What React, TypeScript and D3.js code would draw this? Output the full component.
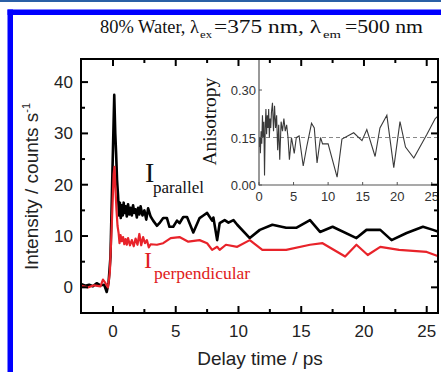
import React, { useEffect, useRef } from 'react';
import * as d3 from 'd3';

// main panel: delay time (ps) vs intensity (counts/s)
const parallelTime = [
  -2.5, -2.2, -1.9, -1.6, -1.3, -1.0, -0.7, -0.5, -0.35, -0.2, -0.05, 0.1, 0.18, 0.25, 0.32, 0.4,
  0.48, 0.55, 0.62, 0.7, 0.78, 0.85, 0.92, 1.0, 1.1, 1.2, 1.3, 1.4, 1.5, 1.6, 1.7, 1.8, 1.9, 2.0,
  2.1, 2.2, 2.35, 2.5, 2.65, 2.8, 3.0, 3.2, 3.5, 3.7, 4.0, 4.3, 4.5, 4.8, 5.1, 5.3, 5.6, 5.9, 6.4,
  6.9, 7.2, 7.5, 7.9, 8.0, 8.3, 8.5, 8.9, 9.2, 9.6, 9.9, 10.9, 11.7, 12.7, 13.8, 14.6, 15.7, 16.5,
  17.5, 19.4, 20.2, 21.3, 22.2, 23.4, 24.7, 25.5, 26.0,
];
const parallelValues = [
  0.6, 0.3, 0.5, 0.2, 0.8, 0.4, 0.5, -0.9, 1.0, 6, 22, 37.5, 30, 26, 21, 18,
  14, 16.5, 13.5, 16, 14, 16.5, 14.5, 15.8, 13.8, 16.2, 14.2, 15.5, 14, 16, 14.5, 15.2, 13.6, 15.5,
  14.2, 15.8, 14, 15, 13.2, 15.4, 13.8, 13, 12, 12.5, 13.5, 13.5, 11.8, 11.8, 13, 12.5, 13.7, 13.7, 10.7,
  13.5, 14, 14.5, 13, 13.6, 9.2, 12.5, 13.1, 12.6, 13.1, 12.2, 9.6, 11.2, 12.2, 11.6, 11.6, 13.1, 10.8,
  11.8, 9.6, 11.2, 11.2, 9.2, 10.6, 11.8, 11.2, 10.8,
];

const perpTime = [
  -2.5, -2.0, -1.5, -1.0, -0.8, -0.6, -0.4, -0.25, -0.1, 0.05, 0.12, 0.2, 0.28, 0.36, 0.45, 0.52,
  0.6, 0.7, 0.8, 0.9, 1.0, 1.1, 1.2, 1.35, 1.5, 1.65, 1.8, 1.95, 2.1, 2.25, 2.4, 2.55, 2.7, 2.85,
  3.0, 3.5, 4.0, 4.6, 5.3, 6.0, 6.9, 7.5, 7.9, 8.3, 8.5, 9.0, 9.9, 10.9, 11.9, 13.8, 15.7, 16.7,
  18.5, 19.4, 20.3, 21.3, 22.8, 25.0, 26.0,
];
const perpValues = [
  0.3, 0.0, 0.4, 0.2, 1.5, 0.8, 0.0, 3, 12, 22, 23.5, 19, 15, 12, 10.5, 8.6,
  10.2, 9, 9.8, 8.4, 9.4, 8.3, 9.6, 8.2, 9.2, 8, 9.5, 8.3, 10.4, 8.2, 9.8, 8.6, 9.2, 7.8,
  8.4, 8.3, 8.6, 9.6, 9.8, 8.9, 9.2, 8.6, 7.3, 7.9, 7.3, 8.3, 7.9, 9.2, 7.3, 7.3, 8.3, 8.6,
  6.0, 8.3, 6.3, 7.9, 7.3, 6.9, 6.0,
];

// inset: anisotropy
const anisoTime = [
  0.0, 0.1, 0.2, 0.3, 0.4, 0.5, 0.6, 0.7, 0.8, 0.9, 1.0, 1.1, 1.2, 1.3, 1.4, 1.5, 1.6, 1.7, 1.8,
  1.95, 2.1, 2.25, 2.4, 2.55, 2.7, 2.85, 3.0, 3.2, 3.4, 3.6, 3.8, 4.0, 4.2, 4.4, 4.7, 5.1, 5.4,
  5.8, 6.4, 6.9, 7.6, 8.0, 8.4, 8.9, 9.2, 10.0, 11.3, 12.0, 13.7, 14.9, 15.6, 16.8, 17.5, 18.5,
  19.5, 20.4, 21.2, 22.4, 24.3, 25.5, 26.0,
];
const anisoValues = [
  0.12, 0.15, 0.10, 0.17, 0.13, 0.22, 0.15, 0.20, 0.03, 0.18, 0.24, 0.16, 0.22, 0.18, 0.24, 0.15, 0.21, 0.18, 0.23,
  0.26, 0.17, 0.25, 0.18, 0.22, 0.11, 0.19, 0.08, 0.20, 0.17, 0.21, 0.17, 0.19, 0.15, 0.08, 0.15, 0.10, 0.15,
  0.155, 0.06, 0.12, 0.195, 0.18, 0.07, 0.15, 0.13, 0.13, 0.025, 0.145, 0.165, 0.14, 0.175, 0.09, 0.18, 0.22,
  0.055, 0.20, 0.12, 0.085, 0.16, 0.21, 0.22,
];

const xMajor = [0, 5, 10, 15, 20, 25];
const xMinor = [2.5, 7.5, 12.5, 17.5, 22.5];
const yMajor = [0, 10, 20, 30, 40];
const yMinor = [5, 15, 25, 35];
const insetXTicks = [0, 5, 10, 15, 20, 25];
const insetYTicks = [0, 0.15, 0.3];

const SERIF = '"Liberation Serif", "Times New Roman", serif';
const SANS = '"Liberation Sans", Arial, sans-serif';

const App: React.FC = () => {
  const svgRef = useRef<SVGSVGElement>(null);

  useEffect(() => {
    if (!svgRef.current) return;
    const svg = d3.select(svgRef.current);
    svg.selectAll('*').remove();

    const W = 441;
    const H = 372;
    svg.attr('width', W).attr('height', H);

    // page frame
    svg.append('rect').attr('x', 0).attr('y', 0).attr('width', W).attr('height', 2).attr('fill', '#2a5fa6');
    svg.append('rect').attr('x', 7.5).attr('y', 9.5).attr('width', 5.5).attr('height', H).attr('fill', '#0000ff');
    svg.append('rect').attr('x', 7.5).attr('y', 9.5).attr('width', W).attr('height', 5.5).attr('fill', '#0000ff');

    // title, pieces placed like the original (its glyphs are a bit wider than Times)
    const title = svg.append('g').style('font-family', SERIF).attr('fill', '#111');
    const piece = (txt: string, px: number, py: number, size: number, len: number) =>
      title.append('text').attr('x', px).attr('y', py).style('font-size', `${size}px`)
        .attr('textLength', len).attr('lengthAdjust', 'spacingAndGlyphs').text(txt);
    piece('80% Water, λ', 100, 33, 18.5, 99);
    piece('ex', 200, 38, 11, 12);
    piece('=375 nm, λ', 214, 33, 18.5, 107);
    piece('em', 323, 38, 11, 18);
    piece('=500 nm', 345, 33, 18.5, 78);

    // main scales
    const left = 81, right = 438, top = 59, bottom = 313;
    const x = d3.scaleLinear().domain([-2.55, 25.9]).range([left, right]);
    const y = d3.scaleLinear().domain([-5, 44.5]).range([bottom, top]);

    // inset scales
    const ix = d3.scaleLinear().domain([0, 25.9]).range([259, right]);
    const iy = d3.scaleLinear().domain([0, 0.398]).range([185, top]);

    const defs = svg.append('defs');
    defs.append('clipPath').attr('id', 'main-clip')
      .append('rect').attr('x', left).attr('y', top).attr('width', right - left).attr('height', bottom - top);
    defs.append('clipPath').attr('id', 'inset-clip')
      .append('rect').attr('x', 259).attr('y', top).attr('width', right - 259).attr('height', 185 - top);

    // labels inside the plot
    svg.append('text').attr('x', 145).attr('y', 182)
      .style('font-family', SERIF).style('font-size', '28px').attr('fill', '#111').text('I');
    svg.append('text').attr('x', 153).attr('y', 193)
      .style('font-family', SERIF).style('font-size', '17px').attr('fill', '#111').text('parallel');
    svg.append('text').attr('x', 144).attr('y', 268)
      .style('font-family', SERIF).style('font-size', '24px').attr('fill', '#e02020').text('I');
    svg.append('text').attr('x', 154).attr('y', 279)
      .style('font-family', SERIF).style('font-size', '17.5px').attr('fill', '#e02020').text('perpendicular');

    // data lines
    const line = d3.line<[number, number]>()
      .x(d => x(d[0]))
      .y(d => y(d[1]));
    const plot = svg.append('g').attr('clip-path', 'url(#main-clip)');
    plot.append('path')
      .datum(parallelTime.map((t, i) => [t, parallelValues[i]] as [number, number]))
      .attr('d', line)
      .attr('fill', 'none')
      .attr('stroke', '#000')
      .attr('stroke-width', 2.6)
      .attr('stroke-linejoin', 'round');
    plot.append('path')
      .datum(perpTime.map((t, i) => [t, perpValues[i]] as [number, number]))
      .attr('d', line)
      .attr('fill', 'none')
      .attr('stroke', '#e8232a')
      .attr('stroke-width', 2.2)
      .attr('stroke-linejoin', 'round');

    // inset
    const inset = svg.append('g');
    inset.append('line')
      .attr('x1', ix(0)).attr('x2', right).attr('y1', iy(0.15)).attr('y2', iy(0.15))
      .attr('stroke', '#888').attr('stroke-width', 1).attr('stroke-dasharray', '4,3');
    const aLine = d3.line<[number, number]>()
      .x(d => ix(d[0]))
      .y(d => iy(d[1]));
    inset.append('path')
      .attr('clip-path', 'url(#inset-clip)')
      .datum(anisoTime.map((t, i) => [t, anisoValues[i]] as [number, number]))
      .attr('d', aLine)
      .attr('fill', 'none')
      .attr('stroke', '#3a3a3a')
      .attr('stroke-width', 1.1);
    inset.append('line').attr('x1', 259).attr('x2', 259).attr('y1', top).attr('y2', 185.5)
      .attr('stroke', '#555').attr('stroke-width', 1.2);
    inset.append('line').attr('x1', 259).attr('x2', right).attr('y1', 185).attr('y2', 185)
      .attr('stroke', '#555').attr('stroke-width', 1.2);
    insetXTicks.forEach(t => {
      inset.append('line').attr('x1', ix(t)).attr('x2', ix(t)).attr('y1', 185).attr('y2', 182)
        .attr('stroke', '#555');
      inset.append('text').attr('x', ix(t)).attr('y', 201).attr('text-anchor', 'middle')
        .style('font-family', SANS).style('font-size', '13px').attr('fill', '#333').text(String(t));
    });
    insetYTicks.forEach(t => {
      inset.append('line').attr('x1', 259).attr('x2', 262).attr('y1', iy(t)).attr('y2', iy(t))
        .attr('stroke', '#555');
      inset.append('text').attr('x', 256).attr('y', iy(t) + 5).attr('text-anchor', 'end')
        .style('font-family', SANS).style('font-size', '13px').attr('fill', '#333').text(t.toFixed(2));
    });
    inset.append('text')
      .attr('transform', `translate(216,${iy(0.2)}) rotate(-90)`)
      .attr('text-anchor', 'middle')
      .style('font-family', SERIF).style('font-size', '19.5px').attr('fill', '#111')
      .text('Anisotropy');

    // axes frame + ticks
    const ax = svg.append('g').attr('stroke', '#000');
    ax.append('rect').attr('x', left).attr('y', top).attr('width', right - left).attr('height', bottom - top)
      .attr('fill', 'none').attr('stroke-width', 2);
    xMajor.forEach(t => {
      ax.append('line').attr('x1', x(t)).attr('x2', x(t)).attr('y1', bottom).attr('y2', bottom - 7).attr('stroke-width', 2);
      ax.append('line').attr('x1', x(t)).attr('x2', x(t)).attr('y1', top).attr('y2', top + 7).attr('stroke-width', 2);
    });
    xMinor.forEach(t => {
      ax.append('line').attr('x1', x(t)).attr('x2', x(t)).attr('y1', bottom).attr('y2', bottom - 4).attr('stroke-width', 2);
      ax.append('line').attr('x1', x(t)).attr('x2', x(t)).attr('y1', top).attr('y2', top + 4).attr('stroke-width', 2);
    });
    yMajor.forEach(t => {
      ax.append('line').attr('x1', left).attr('x2', left + 7).attr('y1', y(t)).attr('y2', y(t)).attr('stroke-width', 2);
      ax.append('line').attr('x1', right).attr('x2', right - 7).attr('y1', y(t)).attr('y2', y(t)).attr('stroke-width', 2);
    });
    yMinor.forEach(t => {
      ax.append('line').attr('x1', left).attr('x2', left + 4).attr('y1', y(t)).attr('y2', y(t)).attr('stroke-width', 2);
      ax.append('line').attr('x1', right).attr('x2', right - 4).attr('y1', y(t)).attr('y2', y(t)).attr('stroke-width', 2);
    });

    // tick labels
    const labels = svg.append('g').style('font-family', SANS).style('font-size', '17px').attr('fill', '#222');
    xMajor.forEach(t => {
      labels.append('text').attr('x', x(t)).attr('y', 337).attr('text-anchor', 'middle').text(String(t));
    });
    yMajor.forEach(t => {
      labels.append('text').attr('x', 73).attr('y', y(t) + 6).attr('text-anchor', 'end').text(String(t));
    });

    // axis titles
    svg.append('text').attr('x', 260).attr('y', 365).attr('text-anchor', 'middle')
      .style('font-family', SANS).style('font-size', '19px').attr('fill', '#222')
      .text('Delay time / ps');
    const yl = svg.append('text').attr('transform', 'translate(38,270) rotate(-90)')
      .style('font-family', SANS).style('font-size', '19px').attr('fill', '#222');
    yl.append('tspan').text('Intensity / counts s');
    yl.append('tspan').attr('dy', -8).style('font-size', '11px').text('-1');
  }, []);

  return (
    <div style={{ position: 'fixed', left: 0, top: 0, background: '#fff' }}>
      <svg ref={svgRef} style={{ display: 'block' }}></svg>
    </div>
  );
};

export default App;
